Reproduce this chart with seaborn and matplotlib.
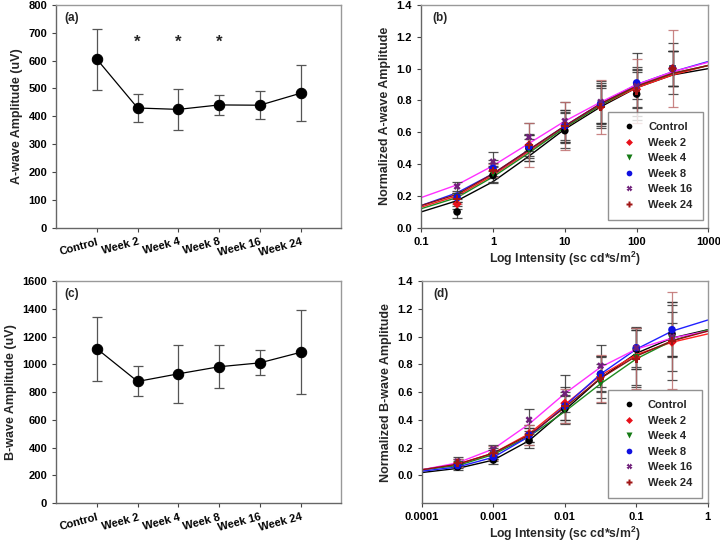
import numpy as np
import pandas as pd
import matplotlib
matplotlib.use("Agg")
import matplotlib.pyplot as plt
import seaborn as sns

sns.set_style("ticks")
plt.rcParams["font.family"] = ["Liberation Sans", "DejaVu Sans"]
plt.rcParams["font.weight"] = "bold"
plt.rcParams["mathtext.fontset"] = "custom"
plt.rcParams["mathtext.bf"] = "Liberation Sans:bold"
plt.rcParams["mathtext.rm"] = "Liberation Sans:bold"

# ---- data ----
groups = ["Control", "Week 2", "Week 4", "Week 8", "Week 16", "Week 24"]

# (a) A-wave amplitude, (c) B-wave amplitude
a_mean = [605, 430, 425, 441, 440, 483]
a_err = [110, 52, 73, 36, 50, 100]
c_mean = [1113, 877, 932, 983, 1011, 1087]
c_err = [230, 108, 211, 155, 90, 303]
star_groups = ["Week 2", "Week 4", "Week 8"]

# (b) normalized A-wave vs intensity
b_x = [0.316, 1, 3.16, 10, 31.6, 100, 316]
b_pts = {
    "Control": [0.10, 0.33, 0.50, 0.61, 0.77, 0.84, 1.00],
    "Week 2": [0.15, 0.36, 0.52, 0.64, 0.76, 0.87, 1.00],
    "Week 4": [0.19, 0.34, 0.49, 0.63, 0.77, 0.88, 1.00],
    "Week 8": [0.19, 0.375, 0.51, 0.64, 0.78, 0.91, 1.00],
    "Week 16": [0.26, 0.415, 0.57, 0.67, 0.79, 0.89, 1.00],
    "Week 24": [0.18, 0.36, 0.52, 0.64, 0.76, 0.86, 1.00],
}
b_err = {
    "Control": [0.04, 0.05, 0.08, 0.11, 0.14, 0.14, 0.16],
    "Week 2": [0.03, 0.05, 0.07, 0.10, 0.12, 0.12, 0.11],
    "Week 4": [0.03, 0.05, 0.07, 0.10, 0.12, 0.12, 0.11],
    "Week 8": [0.03, 0.05, 0.07, 0.10, 0.12, 0.10, 0.11],
    "Week 16": [0.03, 0.06, 0.09, 0.12, 0.13, 0.21, 0.11],
    "Week 24": [0.03, 0.04, 0.14, 0.15, 0.17, 0.20, 0.24],
}
b_fit_x = [0.1, 0.316, 1, 3.16, 10, 31.6, 100, 316, 1000]
b_fit = {
    "Control": [0.10, 0.17, 0.29, 0.45, 0.62, 0.76, 0.88, 0.96, 1.00],
    "Week 2": [0.13, 0.20, 0.33, 0.48, 0.63, 0.77, 0.88, 0.96, 1.02],
    "Week 4": [0.12, 0.19, 0.32, 0.47, 0.63, 0.77, 0.89, 0.97, 1.02],
    "Week 8": [0.14, 0.22, 0.34, 0.49, 0.64, 0.78, 0.90, 0.98, 1.045],
    "Week 16": [0.19, 0.27, 0.39, 0.53, 0.67, 0.79, 0.90, 0.98, 1.04],
    "Week 24": [0.14, 0.21, 0.34, 0.49, 0.64, 0.78, 0.89, 0.97, 1.02],
}

# (d) normalized B-wave vs intensity
d_x = [0.000316, 0.001, 0.00316, 0.01, 0.0316, 0.1, 0.316]
d_pts = {
    "Control": [0.06, 0.11, 0.25, 0.48, 0.73, 0.91, 1.02],
    "Week 2": [0.09, 0.16, 0.30, 0.52, 0.71, 0.85, 0.96],
    "Week 4": [0.08, 0.15, 0.28, 0.47, 0.66, 0.85, 0.98],
    "Week 8": [0.07, 0.13, 0.29, 0.50, 0.73, 0.92, 1.05],
    "Week 16": [0.10, 0.19, 0.40, 0.59, 0.79, 0.92, 1.00],
    "Week 24": [0.09, 0.16, 0.29, 0.50, 0.70, 0.84, 0.97],
}
d_err = {
    "Control": [0.02, 0.03, 0.05, 0.10, 0.12, 0.14, 0.16],
    "Week 2": [0.03, 0.04, 0.06, 0.12, 0.15, 0.21, 0.27],
    "Week 4": [0.02, 0.03, 0.06, 0.10, 0.14, 0.20, 0.12],
    "Week 8": [0.02, 0.03, 0.05, 0.10, 0.13, 0.15, 0.20],
    "Week 16": [0.03, 0.03, 0.08, 0.13, 0.15, 0.14, 0.25],
    "Week 24": [0.03, 0.05, 0.07, 0.12, 0.17, 0.22, 0.35],
}
d_fit_x = [0.0001, 0.000316, 0.001, 0.00316, 0.01, 0.0316, 0.1, 0.316, 1]
d_fit = {
    "Control": [0.02, 0.05, 0.11, 0.25, 0.47, 0.70, 0.88, 0.99, 1.05],
    "Week 2": [0.04, 0.08, 0.16, 0.30, 0.51, 0.72, 0.87, 0.96, 1.02],
    "Week 4": [0.04, 0.07, 0.15, 0.28, 0.46, 0.66, 0.84, 0.97, 1.05],
    "Week 8": [0.03, 0.06, 0.13, 0.28, 0.50, 0.73, 0.91, 1.04, 1.12],
    "Week 16": [0.04, 0.09, 0.19, 0.37, 0.59, 0.78, 0.91, 0.99, 1.04],
    "Week 24": [0.04, 0.08, 0.16, 0.29, 0.49, 0.70, 0.86, 0.97, 1.04],
}

# ---- styles ----
pt_colors = {"Control": "black", "Week 2": "#e8101a", "Week 4": "#157a15",
             "Week 8": "#1010e0", "Week 16": "#70207a", "Week 24": "#a01515"}
fit_colors = {"Control": "black", "Week 2": "#ff2020", "Week 4": "#1f8a1f",
              "Week 8": "#2020ff", "Week 16": "#ff30ff", "Week 24": "#8b1010"}
markers = {"Control": "o", "Week 2": "D", "Week 4": "v",
           "Week 8": "o", "Week 16": "X", "Week 24": "P"}
marker_sizes = {"Control": 30, "Week 2": 22, "Week 4": 26,
                "Week 8": 30, "Week 16": 26, "Week 24": 30}
err_colors = {g: "#333333" for g in groups}
err_colors["Week 24"] = "#c07070"

fig = plt.figure(figsize=(7.2, 5.45), dpi=100)
ax_a = fig.add_axes([0.078, 0.582, 0.396, 0.409])
ax_b = fig.add_axes([0.585, 0.582, 0.399, 0.409])
ax_c = fig.add_axes([0.078, 0.077, 0.396, 0.407])
ax_d = fig.add_axes([0.586, 0.077, 0.397, 0.407])


def style_frame(ax):
    for side in ["left", "bottom"]:
        ax.spines[side].set_color("#666666")
    for side in ["top", "right"]:
        ax.spines[side].set_color("#999999")
    for s in ax.spines.values():
        s.set_linewidth(1.0)
    ax.tick_params(direction="out", length=3, width=0.8, colors="#444444",
                   labelcolor="black", labelsize=8)
    for lab in ax.get_xticklabels() + ax.get_yticklabels():
        lab.set_fontweight("bold")


def amp_panel(ax, means, errs, ylim, yticks, ylabel, tag):
    df = pd.DataFrame({"group": groups, "amp": means, "pos": range(len(groups))})
    ax.errorbar(df["pos"], df["amp"], yerr=errs, fmt="none", ecolor="#555555",
                elinewidth=0.9, capsize=3.5, capthick=0.9, zorder=2)
    sns.lineplot(data=df, x="pos", y="amp", ax=ax, color="black", lw=0.9,
                 marker="o", markersize=7.5, markeredgecolor="black", zorder=3)
    ax.set_xlim(-1, 6)
    ax.set_ylim(*ylim)
    ax.set_yticks(yticks)
    ax.set_xticks(df["pos"])
    ax.set_xticklabels(groups, rotation=15, ha="right", rotation_mode="anchor")
    ax.set_xlabel("")
    ax.set_ylabel(ylabel, fontsize=9, fontweight="bold")
    ax.text(0.03, 0.93, tag, transform=ax.transAxes, fontsize=8.5, fontweight="bold")
    style_frame(ax)


def norm_panel(ax, px, pts, errs, fx, fits, xlim, ylim, xticks, xticklabels, ylabel, tag, legend_anchor):
    fit_df = pd.concat([pd.DataFrame({"x": fx, "y": fits[g], "group": g}) for g in groups])
    sns.lineplot(data=fit_df, x="x", y="y", hue="group", palette=fit_colors, ax=ax,
                 lw=1.0, legend=False, zorder=2, sort=False)
    for g in groups:
        ax.errorbar(px, pts[g], yerr=errs[g], fmt="none", ecolor=err_colors[g],
                    elinewidth=0.9, capsize=3.5, capthick=0.9, alpha=0.85, zorder=3)
    pt_df = pd.concat([pd.DataFrame({"x": px, "y": pts[g], "group": g}) for g in groups])
    sns.scatterplot(data=pt_df, x="x", y="y", hue="group", style="group", size="group",
                    palette=pt_colors, markers=markers, sizes=marker_sizes,
                    edgecolor="none", ax=ax, zorder=4, legend="full")
    ax.set_xscale("log")
    ax.set_xlim(*xlim)
    ax.set_ylim(*ylim)
    ax.set_xticks(xticks)
    ax.set_xticklabels(xticklabels)
    ax.minorticks_off()
    ax.set_yticks(np.round(np.arange(0, 1.41, 0.2), 1))
    ax.set_yticklabels([f"{v:.1f}" for v in np.arange(0, 1.41, 0.2)])
    ax.set_xlabel("Log Intensity (sc cd*s/m$\\mathbf{^2}$)", fontsize=8.8,
                  fontweight="bold", labelpad=2)
    ax.set_ylabel(ylabel, fontsize=9, fontweight="bold")
    ax.text(0.04, 0.93, tag, transform=ax.transAxes, fontsize=8.5, fontweight="bold")
    handles, labels = ax.get_legend_handles_labels()
    keep = [(h, l) for h, l in zip(handles, labels) if l in groups]
    leg = ax.legend([h for h, _ in keep], [l for _, l in keep], loc="lower right",
                    bbox_to_anchor=legend_anchor, frameon=True, fancybox=False,
                    edgecolor="#777777", prop={"weight": "bold", "size": 8},
                    handletextpad=0.7, labelspacing=0.5, borderpad=0.9,
                    borderaxespad=0, markerscale=0.75)
    leg.get_frame().set_linewidth(1.0)
    style_frame(ax)


amp_panel(ax_a, a_mean, a_err, (0, 800), range(0, 801, 100), "A-wave Amplitude (uV)", "(a)")
for g in star_groups:
    ax_a.text(groups.index(g), 665, "*", ha="center", va="center", fontsize=12, fontweight="bold")
amp_panel(ax_c, c_mean, c_err, (0, 1600), range(0, 1601, 200), "B-wave Amplitude (uV)", "(c)")

norm_panel(ax_b, b_x, b_pts, b_err, b_fit_x, b_fit, (0.1, 1000), (0, 1.4),
           [0.1, 1, 10, 100, 1000], ["0.1", "1", "10", "100", "1000"],
           "Normalized A-wave Amplitude", "(b)", (0.98, 0.036))
norm_panel(ax_d, d_x, d_pts, d_err, d_fit_x, d_fit, (0.0001, 1), (-0.2, 1.4),
           [0.0001, 0.001, 0.01, 0.1, 1], ["0.0001", "0.001", "0.01", "0.1", "1"],
           "Normalized B-wave Amplitude", "(d)", (0.98, 0.023))

fig.savefig("out.png", dpi=100)
